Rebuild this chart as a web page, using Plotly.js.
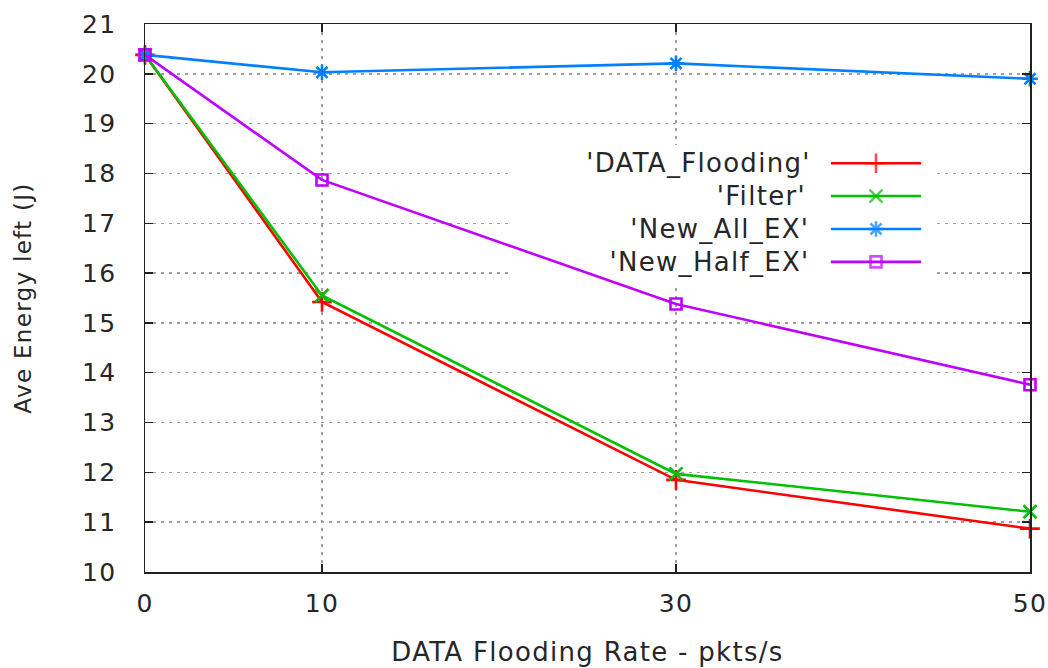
<!DOCTYPE html>
<html>
<head>
<meta charset="utf-8">
<script src="https://cdn.plot.ly/plotly-3.0.1.min.js"></script>
<style>
html,body{margin:0;padding:0;background:#fff;}
#chart{width:1048px;height:668px;}
#chart text{letter-spacing:1.3px;}
</style>
</head>
<body>
<div id="chart"></div>
<script>
// ---- data ----
const rates = [0, 10, 30, 50];
const xTickLabels = ['0', '10', '30', '50'];
const seriesNames = ["'DATA_Flooding'", "'Filter'", "'New_All_EX'", "'New_Half_EX'"];
const dataFlooding = [20.38, 15.42, 11.85, 10.87];
const filterVals   = [20.38, 15.55, 11.97, 11.21];
const newAllEx     = [20.38, 20.03, 20.21, 19.90];
const newHalfEx    = [20.38, 17.87, 15.38, 13.76];

// ---- styles ----
const colors  = ['#ff0000', '#00c000', '#0080ff', '#c000ff'];
const symbols = ['cross-thin-open', 'x-thin-open', 'asterisk-open', 'square-open'];
const sizes   = [14, 13, 13, 11];
const allVals = [dataFlooding, filterVals, newAllEx, newHalfEx];
const FONT = 'DejaVu Sans, sans-serif';
const TXT = '#262626';
const X_RANGE = [0, 50], Y_RANGE = [10, 21];

// legend box (white background hiding the grid, as gnuplot does), in plot-area fractions
const box = {x0: 0.415, x1: 0.895, y0: 0.524, y1: 0.779};
const fx = f => X_RANGE[0] + f * (X_RANGE[1] - X_RANGE[0]);
const fy = f => Y_RANGE[0] + f * (Y_RANGE[1] - Y_RANGE[0]);

const traces = [{
  x: [fx(box.x0), fx(box.x1), fx(box.x1), fx(box.x0), fx(box.x0)],
  y: [fy(box.y0), fy(box.y0), fy(box.y1), fy(box.y1), fy(box.y0)],
  type: 'scatter', mode: 'lines', fill: 'toself', fillcolor: '#ffffff',
  line: {width: 0, color: 'rgba(0,0,0,0)'}, showlegend: false, hoverinfo: 'skip'
}];

allVals.forEach((vals, i) => {
  traces.push({
    x: rates, y: vals, type: 'scatter', mode: 'lines+markers',
    name: seriesNames[i], showlegend: false, cliponaxis: false,
    line: {color: colors[i], width: 2.6},
    marker: {symbol: symbols[i], size: sizes[i], color: colors[i],
             line: {color: colors[i], width: 2.6}}
  });
});

// custom gnuplot-style legend (text right-aligned, sample on the right) on overlay axes
const legRowsY = [0.746, 0.686, 0.626, 0.566];
const legX0 = 0.775, legX1 = 0.877, legXm = 0.826, legTextX = 0.744;
const annotations = [];
allVals.forEach((vals, i) => {
  traces.push({
    x: [legX0, legXm, legX1], y: [legRowsY[i], legRowsY[i], legRowsY[i]],
    xaxis: 'x2', yaxis: 'y2', type: 'scatter', mode: 'lines+markers',
    showlegend: false, hoverinfo: 'skip',
    line: {color: colors[i], width: 2.6},
    marker: {symbol: symbols[i], size: [0, sizes[i], 0], color: colors[i],
             line: {color: colors[i], width: 2.6}}
  });
  annotations.push({
    xref: 'x2', yref: 'y2', x: legTextX, y: legRowsY[i],
    text: seriesNames[i], showarrow: false, xanchor: 'right', yanchor: 'middle',
    font: {family: FONT, size: 26, color: TXT}
  });
});

const layout = {
  width: 1048, height: 668,
  margin: {l: 145, r: 18, t: 24, b: 96},
  paper_bgcolor: '#fff', plot_bgcolor: '#fff',
  showlegend: false,
  font: {family: FONT, size: 25, color: TXT},
  xaxis: {
    range: X_RANGE, tickvals: rates, ticktext: xTickLabels,
    showgrid: true, gridcolor: '#a0a0a0', gridwidth: 1.5, griddash: '3px,5px',
    zeroline: false, showline: true, linecolor: '#222', linewidth: 1.5,
    mirror: 'allticks', ticks: 'inside', ticklen: 8, tickcolor: '#222', tickwidth: 1.5,
    ticklabelstandoff: 8,
    tickfont: {family: FONT, size: 25, color: TXT},
    title: {text: 'DATA Flooding Rate - pkts/s', standoff: 26,
            font: {family: FONT, size: 26, color: TXT}}
  },
  yaxis: {
    range: Y_RANGE, dtick: 1, tick0: 10,
    showgrid: true, gridcolor: '#a0a0a0', gridwidth: 1.5, griddash: '3px,5px',
    zeroline: false, showline: true, linecolor: '#222', linewidth: 1.5,
    mirror: 'allticks', ticks: 'inside', ticklen: 8, tickcolor: '#222', tickwidth: 1.5,
    ticklabelstandoff: 22,
    tickfont: {family: FONT, size: 25, color: TXT},
    title: {text: 'Ave Energy left (J)', standoff: 46,
            font: {family: FONT, size: 23, color: TXT}}
  },
  xaxis2: {overlaying: 'x', range: [0, 1], visible: false, fixedrange: true},
  yaxis2: {overlaying: 'y', range: [0, 1], visible: false, fixedrange: true},
  annotations: annotations
};

Plotly.newPlot('chart', traces, layout, {displayModeBar: false, staticPlot: true});
</script>
</body>
</html>
